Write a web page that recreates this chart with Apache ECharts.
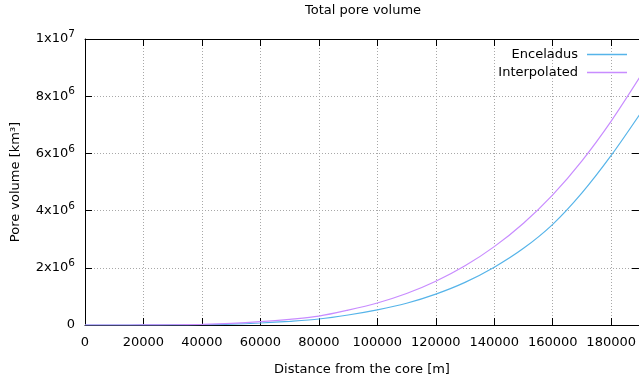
<!DOCTYPE html>
<html>
<head>
<meta charset="utf-8">
<script src="https://cdn.jsdelivr.net/npm/echarts@6/dist/echarts.min.js"></script>
<style>
  html, body { margin: 0; padding: 0; background: #fff; }
  #chart { width: 639px; height: 386px; }
</style>
</head>
<body>
<div id="chart"></div>
<script>
// distance from the core [m]
var radius = [0, 10000, 20000, 30000, 40000, 50000, 60000, 70000, 80000, 90000,
  100000, 110000, 120000, 130000, 140000, 150000, 160000, 170000, 180000, 190000];
// pore volume [km3]
var enceladus = [0, 0, 1000, 4000, 12000, 30000, 70000, 130000, 210000, 350000,
  530000, 760000, 1080000, 1490000, 2020000, 2680000, 3520000, 4620000, 5930000, 7400000];
var interpolated = [0, 0, 2000, 8000, 22000, 55000, 115000, 200000, 310000, 520000,
  770000, 1100000, 1530000, 2070000, 2740000, 3560000, 4550000, 5740000, 7130000, 8700000];

var yTicks = ['0', '2x10^6', '4x10^6', '6x10^6', '8x10^6', '1x10^7'];

function pairs(ys) {
  return radius.map(function (r, i) { return [r, ys[i]]; });
}

var font = 'DejaVu Sans';
var gridLine = { color: '#a8a8a8', type: [1, 2], width: 1 };
var border = { show: true, onZero: false, lineStyle: { color: '#000', width: 1 } };
var tick = { show: true, inside: true, length: 7, lineStyle: { color: '#000', width: 1 } };

var myChart = echarts.init(document.getElementById('chart'));

var option = {
    animation: false,
    title: {
        text: 'Total pore volume',
        left: 305, top: 4, padding: 0,
        textStyle: { fontFamily: font, fontSize: 13, fontWeight: 'normal', color: '#000' }
    },
    legend: [
        { data: ['Enceladus'], right: 12, top: 48, padding: 0, align: 'right',
          icon: 'rect', itemWidth: 40, itemHeight: 1.5,
          textStyle: { fontFamily: font, fontSize: 13, color: '#000', padding: [0, 4, 0, 0] } },
        { data: ['Interpolated'], right: 12, top: 66, padding: 0, align: 'right',
          icon: 'rect', itemWidth: 40, itemHeight: 1.5,
          textStyle: { fontFamily: font, fontSize: 13, color: '#000', padding: [0, 4, 0, 0] } }
    ],
    grid: { left: 85, right: -2, top: 39, bottom: 61, containLabel: false },
    xAxis: [
        {
            type: 'value', position: 'bottom', min: 0, max: 189500, interval: 20000,
            axisLine: border, axisTick: tick,
            splitLine: { show: true, lineStyle: gridLine },
            axisLabel: {
                fontFamily: font, fontSize: 13, color: '#000', margin: 11, showMaxLabel: false,
                formatter: function (v) { return String(v); }
            },
            name: 'Distance from the core [m]', nameLocation: 'middle', nameGap: 38,
            nameTextStyle: { fontFamily: font, fontSize: 13, color: '#000' }
        },
        {
            type: 'value', position: 'top', min: 0, max: 189500, interval: 20000,
            axisLine: border, axisTick: tick, axisLabel: { show: false }, splitLine: { show: false }
        }
    ],
    yAxis: [
        {
            type: 'value', position: 'left', min: 0, max: 10000000, interval: 2000000,
            axisLine: border, axisTick: tick,
            splitLine: { show: true, lineStyle: gridLine },
            axisLabel: {
                margin: 10,
                formatter: function (v, i) {
                    var t = yTicks[i] || '';
                    if (t.indexOf('^') < 0) return '{m|' + t + '}';
                    var p = t.split('^');
                    return '{m|' + p[0] + '}{e|' + p[1] + '}';
                },
                rich: {
                    m: { fontFamily: font, fontSize: 13, color: '#000', lineHeight: 20 },
                    e: { fontFamily: font, fontSize: 10.5, color: '#000', lineHeight: 13, verticalAlign: 'top' }
                }
            },
            name: 'Pore volume [km³]', nameLocation: 'middle', nameGap: 63,
            nameTextStyle: { fontFamily: font, fontSize: 13, color: '#000' }
        },
        {
            type: 'value', position: 'right', min: 0, max: 10000000, interval: 2000000,
            axisLine: border, axisTick: tick, axisLabel: { show: false }, splitLine: { show: false }
        }
    ],
    series: [
        {
            name: 'Enceladus', type: 'line', data: pairs(enceladus),
            showSymbol: false, smooth: 0.3, color: '#56b4e9',
            lineStyle: { width: 1.2, color: '#56b4e9' }
        },
        {
            name: 'Interpolated', type: 'line', data: pairs(interpolated),
            showSymbol: false, smooth: 0.3, color: '#c88cff',
            lineStyle: { width: 1.2, color: '#c88cff' }
        }
    ]
};

myChart.setOption(option);
</script>
</body>
</html>
